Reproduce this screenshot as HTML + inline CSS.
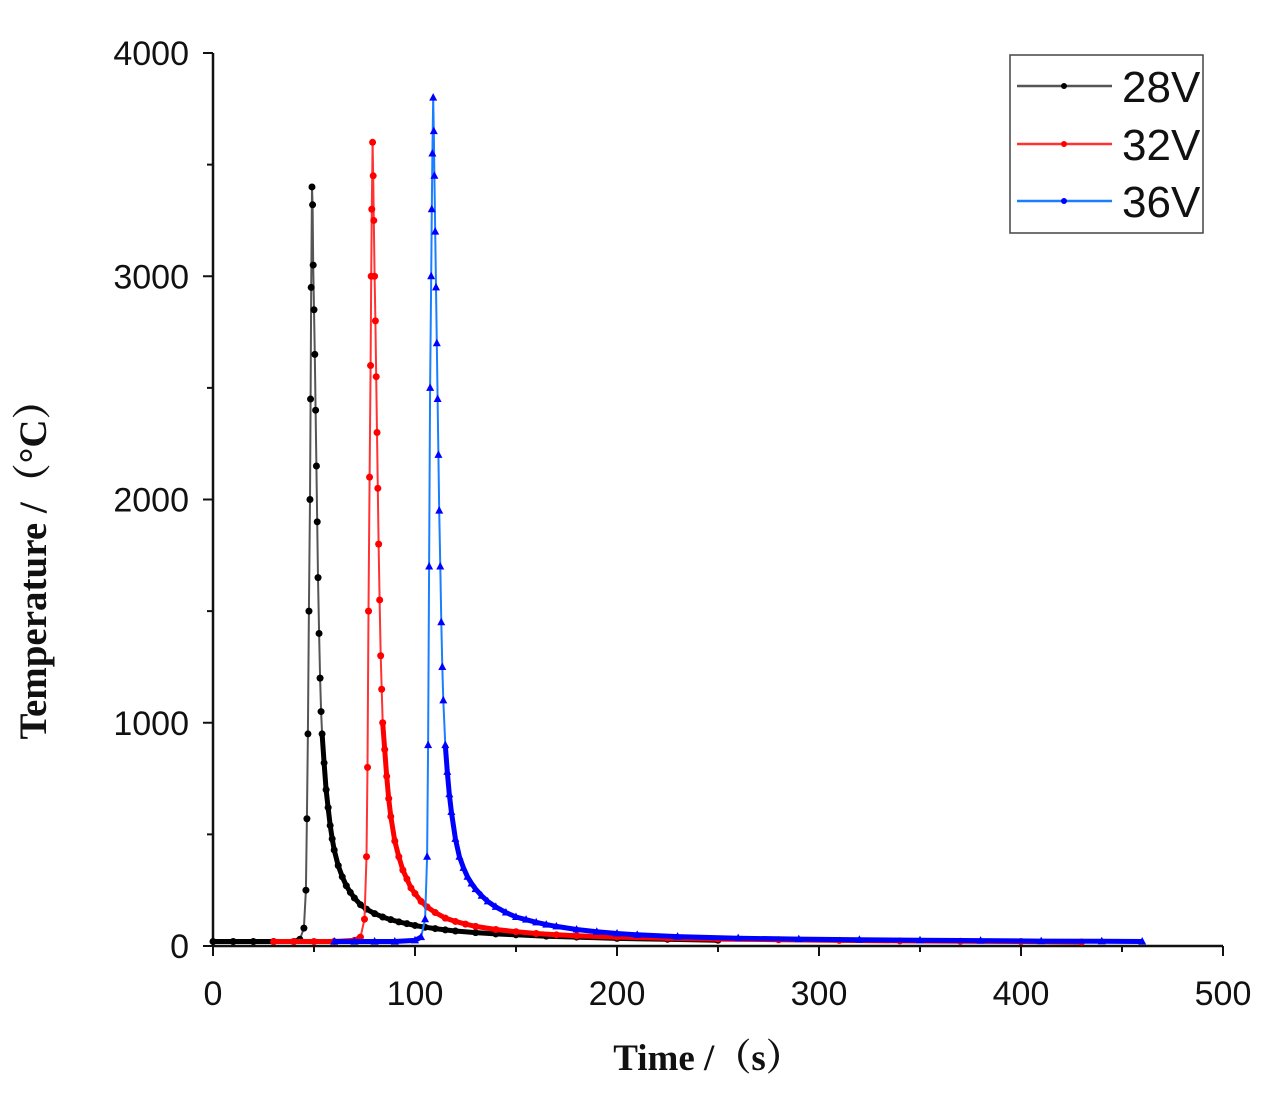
<!DOCTYPE html>
<html><head><meta charset="utf-8"><style>
html,body{margin:0;padding:0;background:#fff;}
svg{display:block;}
.tick{font-family:"Liberation Sans Narrow","Liberation Sans",sans-serif;font-size:34px;fill:#111;}
.title{font-family:"Liberation Serif","Noto Serif CJK SC",serif;font-weight:bold;fill:#111;}
.leg{font-family:"Liberation Sans Narrow","Liberation Sans",sans-serif;font-size:44px;fill:#111;}
</style></head><body>
<svg id="chart" width="1283" height="1108" viewBox="0 0 1283 1108">
<g id="grid-layer"></g>
<g id="series-layer"></g>
<rect x="1010" y="55" width="193" height="178" fill="#fff" stroke="#444" stroke-width="1.5"/>
<g id="legend-layer"></g>
<text class="title" x="46" y="560" font-size="39" text-anchor="middle" transform="rotate(-90 46 560)">Temperature /（°C）</text>
<text class="title" x="708" y="1070" font-size="37" text-anchor="middle">Time /（s）</text>
</svg>
<script>
const xTicks=[0,100,200,300,400,500];
const yTicks=[0,1000,2000,3000,4000];
const seriesNames=["28V","32V","36V"];
const t28=[0,10,20,30,40,43,45,46,46.5,47,47.5,48,48.3,48.6,49,49.3,49.6,50,50.4,50.8,51.2,51.6,52,52.5,53,53.5,54,55,56,57,58,59,60,62,64,66,68,70,73,76,80,84,88,92,96,100,105,110,115,120,130,140,150,165,180,200,225,250];
const v28=[20,20,20,20,20,30,80,250,570,950,1500,2000,2450,2950,3400,3320,3050,2850,2650,2400,2150,1900,1650,1400,1200,1050,950,820,700,620,540,480,430,360,310,270,240,215,185,165,145,130,118,108,100,92,84,78,72,67,60,54,50,44,40,34,30,26];
const t32=[30,40,50,60,70,73,75,76,76.5,77,77.5,78,78.3,78.6,79,79.3,79.6,80,80.4,80.8,81.2,81.6,82,82.5,83,83.5,84,85,86,87,88,90,92,94,96,98,100,103,106,110,115,120,125,130,140,150,160,170,180,200,225,250,280,310,340,370,400,430];
const v32=[20,20,20,20,25,40,120,400,800,1500,2100,2600,3000,3300,3600,3450,3250,3000,2800,2550,2300,2050,1800,1550,1300,1150,1000,880,760,660,580,470,400,340,300,260,235,200,175,150,125,110,98,88,74,64,56,50,46,40,35,31,28,25,23,21,20,18];
const t36=[60,70,80,90,100,103,105,106,106.5,107,107.5,108,108.3,108.6,109,109.3,109.6,110,110.4,110.8,111.2,111.6,112,112.5,113,113.5,114,115,116,117,118,120,122,124,126,128,130,133,136,140,145,150,155,160,165,170,180,190,200,210,230,260,290,320,350,380,410,440,460];
const v36=[20,20,20,20,25,40,120,400,900,1700,2500,3000,3300,3550,3800,3650,3450,3200,2950,2700,2450,2200,1950,1700,1450,1250,1100,900,780,680,600,480,400,350,310,280,255,225,200,175,150,130,118,106,96,88,74,64,56,50,42,35,31,28,26,24,22,21,20];
const seriesT=[t28,t32,t36];
const seriesV=[v28,v32,v36];
const lineColors=["#555","#ff3333","#1a7fff"];
const markColors=["#000","#ff0000","#0000ff"];
const NS="http://www.w3.org/2000/svg";
const X0=213,X1=1223,Y0=946,Y1=53;
function sx(t){return X0+(t-0)/(500-0)*(X1-X0);}
function sy(v){return Y0-(v-0)/(4000-0)*(Y0-Y1);}
function mk(tag,attrs,parent){const e=document.createElementNS(NS,tag);for(const k in attrs)e.setAttribute(k,attrs[k]);parent.appendChild(e);return e;}
function pathOf(T,V,a,b){let d='';for(let i=a;i<=b;i++)d+=(i>a?'L':'M')+sx(T[i]).toFixed(1)+','+sy(V[i]).toFixed(1);return d;}
const g=document.getElementById('grid-layer');
let ax=mk('line',{x1:X0,y1:Y1,x2:X0,y2:Y0+1,stroke:'#111','stroke-width':2.5},g);


let bx=mk('line',{x1:X0-1,y1:Y0,x2:X1,y2:Y0,stroke:'#111','stroke-width':2.5},g);


for(let i=0;i<xTicks.length;i++){
  const x=sx(xTicks[i]);
  mk('line',{x1:x,y1:Y0,x2:x,y2:Y0+10,stroke:'#111','stroke-width':2},g);
  if(i<xTicks.length-1){const xm=sx(xTicks[i]+50);mk('line',{x1:xm,y1:Y0,x2:xm,y2:Y0+6,stroke:'#111','stroke-width':2},g);}
  const tx=mk('text',{x:x,y:Y0+59,'text-anchor':'middle',class:'tick'},g);
  tx.textContent=xTicks[i];
  
  
}
for(let i=0;i<yTicks.length;i++){
  const y=sy(yTicks[i]);
  mk('line',{x1:X0-10,y1:y,x2:X0,y2:y,stroke:'#111','stroke-width':2},g);
  if(i<yTicks.length-1){const ym=sy(yTicks[i]+500);mk('line',{x1:X0-6,y1:ym,x2:X0,y2:ym,stroke:'#111','stroke-width':2},g);}
  const ty=mk('text',{x:X0-24,y:y+12,'text-anchor':'end',class:'tick'},g);
  ty.textContent=yTicks[i];
  
  
}
const sl=document.getElementById('series-layer');
for(let s=0;s<3;s++){
  const grp=mk('g',{},sl);
  
  
  const T=seriesT[s],V=seriesV[s];
  let pk=0;for(let i=1;i<V.length;i++)if(V[i]>V[pk])pk=i;
  let riseStart=0;while(riseStart<pk&&V[riseStart+1]<60)riseStart++;
  let thickStart=pk;while(thickStart<V.length-1&&V[thickStart]>1000)thickStart++;
  const b=mk('path',{d:pathOf(T,V,0,riseStart),fill:'none',stroke:markColors[s],'stroke-width':5},grp);
  
  
  const p=mk('path',{d:pathOf(T,V,riseStart,thickStart),fill:'none',stroke:lineColors[s],'stroke-width':2},grp);
  
  
  const p2=mk('path',{d:pathOf(T,V,thickStart,T.length-1),fill:'none',stroke:markColors[s],'stroke-width':5,'stroke-linejoin':'round'},grp);
  
  
  for(let i=0;i<T.length;i++){
    const x=sx(T[i]),y=sy(V[i]);
    let m;
    if(s==2) m=mk('path',{d:`M${x},${y-4.5}L${x+4},${y+3}L${x-4},${y+3}Z`,fill:markColors[s]},grp);
    else m=mk('circle',{cx:x,cy:y,r:3.5,fill:markColors[s]},grp);
    
    
  }
}
const lg=document.getElementById('legend-layer');
const legY=[86,144,201];
for(let s=0;s<3;s++){
  const e=mk('g',{},lg);
  
  
  mk('line',{x1:1017,y1:legY[s],x2:1112,y2:legY[s],stroke:lineColors[s],'stroke-width':2.5},e);
  mk('circle',{cx:1064,cy:legY[s],r:3,fill:markColors[s]},e);
  const t=mk('text',{x:1122,y:legY[s]+16,class:'leg'},e);
  t.textContent=seriesNames[s];
}
</script>
</body></html>
